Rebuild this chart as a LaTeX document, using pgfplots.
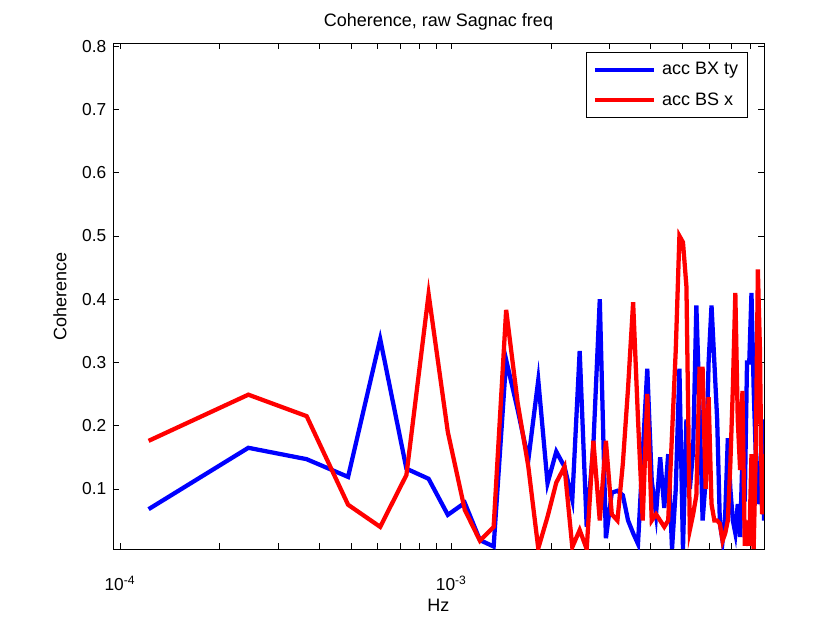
\documentclass[border=0pt]{standalone}
\usepackage{pgfplots}
\pgfplotsset{compat=1.18}
\usepackage{pgfplotstable}
\usepackage{fontspec}
\setmainfont{Liberation Sans}

\pgfplotstableread{
f blue red
1.2207e-4 0.068 0.176
2.4414e-4 0.165 0.249
3.6621e-4 0.147 0.215
4.8828e-4 0.119 0.075
6.1035e-4 0.337 0.040
7.3242e-4 0.132 0.122
8.5449e-4 0.116 0.408
9.7656e-4 0.059 0.19
1.09863e-3 0.078 0.067
1.2207e-3 0.019 0.018
1.34277e-3 0.009 0.04
1.46484e-3 0.304 0.383
1.58691e-3 0.225 0.236
1.70898e-3 0.146 0.135
1.83105e-3 0.272 0.006
1.95313e-3 0.109 0.056
2.0752e-3 0.159 0.11
2.19727e-3 0.135 0.135
2.31934e-3 0.083 0.008
2.44141e-3 0.318 0.035
2.56348e-3 0.04 0.005
2.68555e-3 0.17 0.176
2.80762e-3 0.40 0.05
2.92969e-3 0.022 0.176
3.05176e-3 0.094 0.06
3.17383e-3 0.097 0.05
3.2959e-3 0.09 0.14
3.41797e-3 0.05 0.26
3.54004e-3 0.03 0.395
3.66211e-3 0.013 0.21
3.78418e-3 0.155 0.05
3.90625e-3 0.29 0.25
4.02832e-3 0.113 0.05
4.15039e-3 0.06 0.06
4.27246e-3 0.15 0.05
4.39453e-3 0.07 0.04
4.5166e-3 0.155 0.05
4.63867e-3 0.005 0.187
4.76074e-3 0.10 0.32
4.88281e-3 0.29 0.50
5.00488e-3 0.005 0.49
5.12695e-3 0.21 0.42
5.24902e-3 0.10 0.035
5.37109e-3 0.16 0.06
5.49316e-3 0.39 0.09
5.61523e-3 0.23 0.29
5.7373e-3 0.05 0.29
5.85938e-3 0.113 0.10
5.98145e-3 0.30 0.245
6.10352e-3 0.39 0.076
6.22559e-3 0.30 0.05
6.34766e-3 0.21 0.05
6.46973e-3 0.045 0.045
6.5918e-3 0.018 0.018
6.71387e-3 0.06 0.03
6.83594e-3 0.18 0.05
6.95801e-3 0.10 0.14
7.08008e-3 0.05 0.26
7.20215e-3 0.03 0.41
7.32422e-3 0.076 0.21
7.44629e-3 0.024 0.13
7.56836e-3 0.155 0.255
7.69043e-3 0.08 0.01
7.8125e-3 0.30 0.05
7.93457e-3 0.30 0.01
8.05664e-3 0.41 0.155
8.17871e-3 0.26 0.005
8.30078e-3 0.155 0.155
8.42285e-3 0.076 0.447
8.54492e-3 0.11 0.32
8.66699e-3 0.21 0.06
8.78906e-3 0.05 0.155
}\coh

\begin{document}
\begin{tikzpicture}
\path[use as bounding box] (-84.75pt,-54pt) rectangle (543.75pt,411.75pt);
\begin{axis}[
  at={(0,0)}, anchor=south west,
  scale only axis,
  width=488.25pt, height=379.5pt,
  xmode=log,
  xmin=9.53e-5, xmax=8.78906e-3,
  ymin=0.005, ymax=0.805,
  axis line style={line width=0.6pt},
  tick style={black, line width=0.6pt},
  tick align=inside,
  major tick length=4.5pt,
  minor tick length=4.5pt,
  xtick={1e-4,1e-3},
  xticklabels={10\textsuperscript{-4},10\textsuperscript{-3}},
  minor xtick={2e-4,3e-4,4e-4,5e-4,6e-4,7e-4,8e-4,9e-4,2e-3,3e-3,4e-3,5e-3,6e-3,7e-3,8e-3},
  ytick={0.1,0.2,0.3,0.4,0.5,0.6,0.7,0.8},
  yticklabel style={/pgf/number format/fixed,/pgf/number format/precision=1,/pgf/number format/fixed zerofill, xshift=-1.5pt},
  /pgf/number format/assume math mode=true,
  ticklabel style={font=\fontsize{13}{15}\selectfont},
  xticklabel style={anchor=base, yshift=-30.75pt},
  title={Coherence, raw Sagnac freq},
  title style={font=\fontsize{13.5}{16}\selectfont, anchor=base, yshift=6.75pt},
  xlabel={Hz},
  xlabel style={font=\fontsize{13.5}{16}\selectfont, at={(axis description cs:0.5,-0.1107)}, anchor=center},
  ylabel={Coherence},
  ylabel style={font=\fontsize{13.5}{16}\selectfont, at={(axis description cs:-0.0814,0.5)}, anchor=center},
  legend style={at={(0.9754,0.982)}, anchor=north east, font=\fontsize{13.5}{16}\selectfont, draw=black, line width=0.6pt, inner xsep=5pt, inner ysep=5.5pt, row sep=8pt, column sep=3pt},
  legend cell align=left,
  legend image code/.code={\draw[#1, line width=3pt] (0pt,0pt) -- (44pt,0pt);},
]
\addplot[color={rgb,255:red,0;green,0;blue,255}, line width=3.2pt] table[x=f, y=blue] {\coh};
\addlegendentry{acc BX ty}
\addplot[color={rgb,255:red,255;green,0;blue,0}, line width=3.2pt] table[x=f, y=red] {\coh};
\addlegendentry{acc BS x}
\end{axis}
\end{tikzpicture}
\end{document}
